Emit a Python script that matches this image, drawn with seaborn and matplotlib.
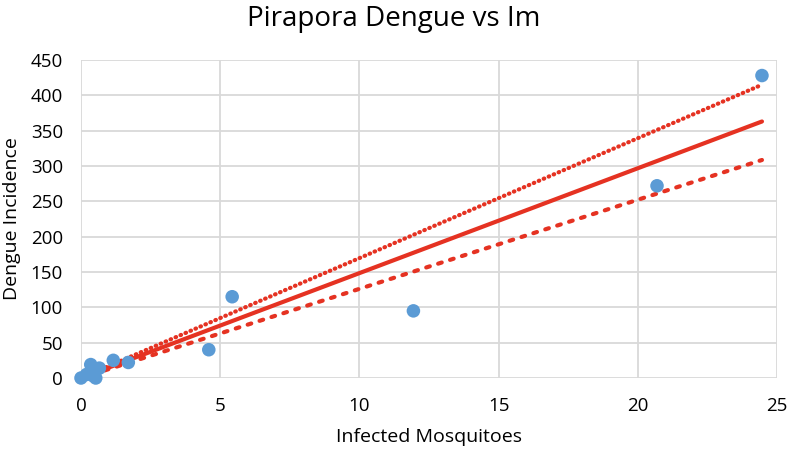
import matplotlib
matplotlib.use("Agg")
import matplotlib.pyplot as plt
import seaborn as sns
import pandas as pd

# Data
mosquitoes = [0.0, 0.2, 0.35, 0.44, 0.53, 0.66, 1.16, 1.70, 4.59, 5.43, 11.94, 20.69, 24.46]
dengue = [0, 5, 19, 3, 0, 14, 25, 22, 40, 115, 95, 272, 428]

line_x = [0.0, 24.46]
fit_y = [0.0, 363.0]
upper_y = [0.0, 415.0]
lower_y = [0.0, 308.5]

x_ticks = [0, 5, 10, 15, 20, 25]
y_ticks = [0, 50, 100, 150, 200, 250, 300, 350, 400, 450]

sns.set_style("white")
plt.rcParams['font.family'] = ['Open Sans', 'DejaVu Sans']

fig = plt.figure(figsize=(7.88, 4.51), dpi=100)
ax = fig.add_axes([81/788, 1-378/451, (777-81)/788, (378-60)/451])

red = "#E53222"
lw = 3.0
lines = pd.DataFrame({"x": line_x, "fit": fit_y, "upper": upper_y, "lower": lower_y})
sns.lineplot(data=lines, x="x", y="upper", ax=ax, color=red, lw=lw,
             linestyle=(0, (0.15, 1.15)), dash_capstyle="round", zorder=2)
sns.lineplot(data=lines, x="x", y="lower", ax=ax, color=red, lw=lw,
             linestyle=(0, (0.9, 2.1)), dash_capstyle="round", zorder=2)
sns.lineplot(data=lines, x="x", y="fit", ax=ax, color=red, lw=lw,
             solid_capstyle="round", zorder=2)

df = pd.DataFrame({"Infected Mosquitoes": mosquitoes, "Dengue Incidence": dengue})
sns.scatterplot(data=df, x="Infected Mosquitoes", y="Dengue Incidence", ax=ax,
                color="#5B9BD5", s=95, edgecolor="none", zorder=3, clip_on=False)

ax.set_xlim(0, 25)
ax.set_ylim(0, 450)
ax.set_xticks(x_ticks)
ax.set_yticks(y_ticks)
ax.grid(True, color="#D9D9D9", lw=1.3)
ax.set_axisbelow(True)
for s in ax.spines.values():
    s.set_visible(False)
ax.tick_params(axis="both", length=0, labelsize=13.5, colors="#000000")
ax.tick_params(axis="x", pad=14)
ax.tick_params(axis="y", pad=13)
ax.set_xlabel("Infected Mosquitoes", fontsize=14, labelpad=9, color="#000000")
ax.set_ylabel("Dengue Incidence", fontsize=14, labelpad=7, color="#000000")
fig.suptitle("Pirapora Dengue vs Im", fontsize=20, x=0.5, y=0.99, color="#000000")

fig.savefig("out.png", dpi=100)
